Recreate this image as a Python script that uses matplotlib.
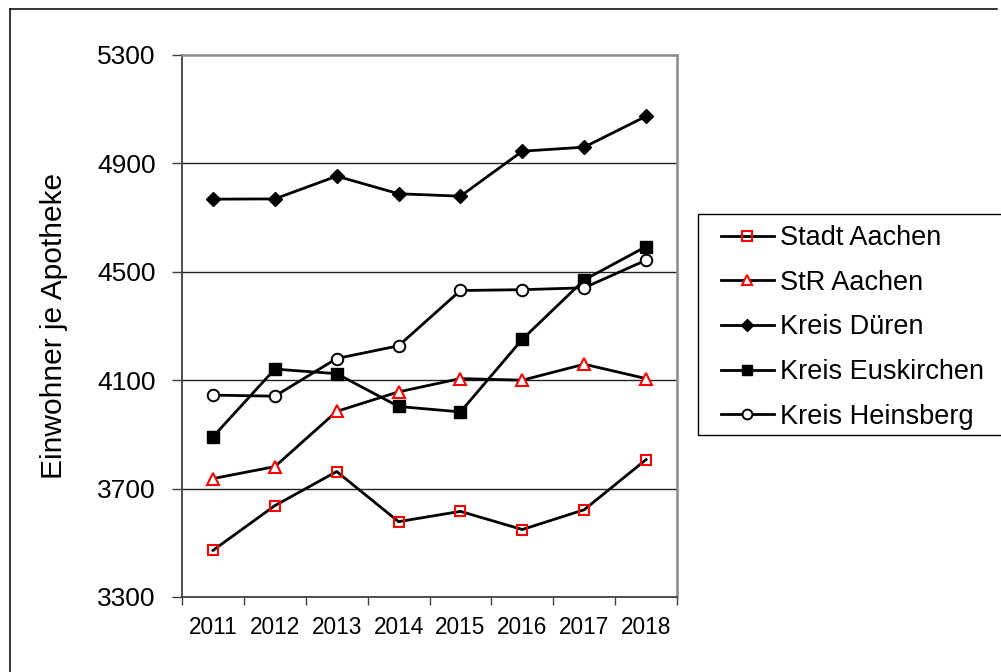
import matplotlib
matplotlib.use("Agg")
import matplotlib.pyplot as plt
from matplotlib.lines import Line2D
from matplotlib.patches import Rectangle

plt.rcParams['font.family'] = ['Liberation Sans', 'DejaVu Sans']

years = ["2011", "2012", "2013", "2014", "2015", "2016", "2017", "2018"]
stadt_aachen = [3472, 3637, 3763, 3578, 3616, 3549, 3622, 3807]
str_aachen = [3737, 3781, 3985, 4057, 4106, 4100, 4159, 4106]
kreis_dueren = [4768, 4769, 4853, 4788, 4779, 4945, 4960, 5074]
kreis_euskirchen = [3891, 4141, 4124, 4003, 3983, 4251, 4470, 4593]
kreis_heinsberg = [4045, 4041, 4180, 4227, 4431, 4434, 4441, 4543]
y_ticks = [3300, 3700, 4100, 4500, 4900, 5300]

W, H = 1001, 672
fig = plt.figure(figsize=(W / 100, H / 100), dpi=100)
fig.patch.set_facecolor('white')

# outer frame (left and top edges)
fig.add_artist(Line2D([10 / W, 10 / W], [0, 1 - 9 / H], color='black', lw=1.1))
fig.add_artist(Line2D([10 / W, 997 / W], [1 - 9 / H, 1 - 9 / H], color='black', lw=1.1))

ax = fig.add_axes([182 / W, 1 - 597 / H, (677 - 182) / W, (597 - 55) / H])

x = list(range(len(years)))
series = [
    ("Stadt Aachen", stadt_aachen, dict(marker='s', ms=7.8, mec='#FF0000', mfc='none', mew=1.5)),
    ("StR Aachen", str_aachen, dict(marker='^', ms=8.3, mec='#FF0000', mfc='white', mew=1.5)),
    ("Kreis Düren", kreis_dueren, dict(marker='D', ms=7.2, mec='black', mfc='black', mew=1)),
    ("Kreis Euskirchen", kreis_euskirchen, dict(marker='s', ms=8.3, mec='black', mfc='black', mew=1)),
    ("Kreis Heinsberg", kreis_heinsberg, dict(marker='o', ms=8.3, mec='black', mfc='white', mew=1.4)),
]
handles = []
for name, vals, style in series:
    h, = ax.plot(x, vals, color='black', lw=2.0, label=name, zorder=3, **style)
    handles.append(h)

ax.set_xlim(-0.5, len(years) - 0.5)
ax.set_ylim(3300, 5300)
ax.set_yticks(y_ticks)
ax.set_yticklabels([str(v) for v in y_ticks])
for v in y_ticks[1:-1]:
    ax.axhline(v, color='#222222', lw=1.0, zorder=1)

# category boundaries as major ticks, labels on minor ticks
ax.set_xticks([i - 0.5 for i in range(len(years) + 1)])
ax.set_xticklabels([''] * (len(years) + 1))
ax.set_xticks(x, minor=True)
ax.set_xticklabels(years, minor=True)
ax.tick_params(axis='x', which='major', direction='out', length=5.5, width=1, color='#404040')
ax.tick_params(axis='x', which='minor', length=0, pad=14, labelsize=16.3)
ax.tick_params(axis='y', direction='out', length=7, width=1, color='#404040', pad=12, labelsize=19)

for side in ('left', 'bottom'):
    ax.spines[side].set_color('#404040')
    ax.spines[side].set_linewidth(1.3)
for side in ('top', 'right'):
    ax.spines[side].set_color('#8a8a8a')
    ax.spines[side].set_linewidth(1.8)

ax.set_ylabel("Einwohner je Apotheke", fontsize=21.5)
ax.yaxis.set_label_coords((68 - 182) / 495, 0.5)

# legend box
fig.add_artist(Rectangle((698 / W, 1 - 435 / H), 0.4, (435 - 214) / H,
                         transform=fig.transFigure, facecolor='white',
                         edgecolor='black', lw=1.0, zorder=0))
leg = fig.legend(handles=handles, loc='upper left',
                 bbox_to_anchor=(721 / W, 1 - 225 / H), frameon=False,
                 fontsize=19.5, borderpad=0, borderaxespad=0,
                 handlelength=1.95, handletextpad=0.22, labelspacing=0.69,
                 markerscale=0.85)

fig.savefig("out.png", dpi=100)
